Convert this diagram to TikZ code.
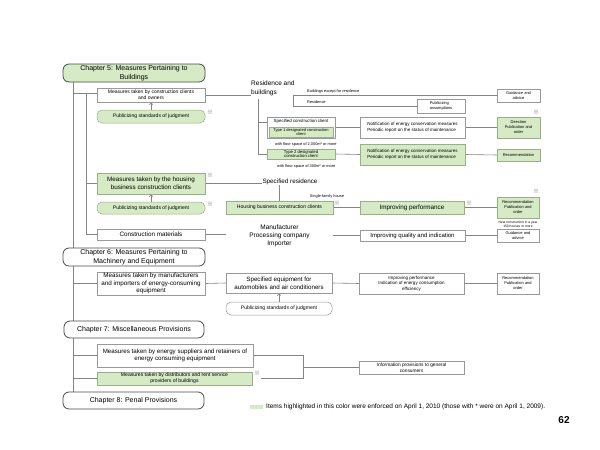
\documentclass[tikz,border=0pt]{standalone}
\usepackage{fontspec}
\setmainfont{Liberation Sans}
\newfontfamily\cjkf{Noto Sans CJK JP}
\usetikzlibrary{backgrounds,arrows.meta}
\definecolor{grn}{HTML}{D5EAC5}
\definecolor{grnline}{HTML}{98B088}
\definecolor{boxline}{HTML}{999999}
\definecolor{conline}{HTML}{848484}
\definecolor{chline}{HTML}{4A4A4A}
\newcommand{\fsz}[2]{\fontsize{#1}{#2}\selectfont}
\tikzset{
 base/.style={draw=boxline, line width=0.5pt, fill=white, align=center, inner sep=0.5pt, text=black},
 wbox/.style={base},
 gbox/.style={base, fill=grn, draw=grnline},
 rnd/.style={rounded corners=5pt},
 chap/.style={draw=chline, line width=0.8pt, rounded corners=6pt, fill=white, align=center, inner sep=0.5pt, text=black, font=\fsz{7}{8.5}},
 conn/.style={draw=conline, line width=0.6pt},
 upar/.style={conn, -{Straight Barb[length=2pt,width=3.5pt]}},
 note/.style={inner sep=0pt, align=left, text=black},
 ast/.style={inner sep=0pt, text=black!55, font=\cjkf\fsz{6}{6}},
}
\begin{document}
\begin{tikzpicture}[x=1pt,y=-1pt]
\useasboundingbox (0,0) rectangle (600,450);
\coordinate (lx) at (73,0);
\coordinate (mx) at (86,0);
% Chapter 5
\node[chap, fill=grn, minimum width=142, minimum height=18] (ch5) at (134,73) {Chapter 5: Measures Pertaining to\\Buildings};
\node[wbox, minimum width=108, minimum height=14, font=\fsz{5}{6}] (cc) at (151,95) {Measures taken by construction clients\\and owners};
\node[gbox, rnd, minimum width=108, minimum height=13, font=\fsz{5.1}{6}] (pub1) at (151,116.5) {Publicizing standards of judgment};
\node[gbox, minimum width=108, minimum height=21, font=\fsz{6.3}{8}] (hous) at (151,183.5) {Measures taken by the housing\\business construction clients};
\node[gbox, rnd, minimum width=108, minimum height=12, font=\fsz{5.1}{6}] (pub2) at (151,208) {Publicizing standards of judgment};
\node[wbox, minimum width=108, minimum height=11, font=\fsz{6.3}{7}] (cmat) at (151,234.5) {Construction materials};
% Chapter 6
\node[chap, minimum width=142, minimum height=18] (ch6) at (134,257) {Chapter 6: Measures Pertaining to\\Machinery and Equipment};
\node[wbox, minimum width=108, minimum height=23, font=\fsz{6.3}{7.4}] (manu) at (151,283.5) {Measures taken by manufacturers\\and importers of energy-consuming\\equipment};
% Chapter 7
\node[chap, minimum width=140, minimum height=17] (ch7) at (134,329.5) {Chapter 7: Miscellaneous Provisions};
\node[wbox, minimum width=156, minimum height=23, font=\fsz{6.2}{7.6}] (supp) at (175,355.5) {Measures taken by energy suppliers and retainers of\\energy consuming equipment};
\node[gbox, minimum width=155, minimum height=13, font=\fsz{5.1}{6}] (dist) at (174.5,378.5) {Measures taken by distributors and rent service\\providers of buildings};
% Chapter 8
\node[chap, minimum width=141, minimum height=17] (ch8) at (133.5,400.5) {Chapter 8: Penal Provisions};

% Residence and buildings branch
\node[note, font=\fsz{6.5}{9}, anchor=north west] (resb) at (251,81) {Residence and\\buildings};
\coordinate (jr) at (258,99);
\coordinate (jb) at (293,95.5);
\node[wbox, minimum width=68, minimum height=21, font=\fsz{4.4}{5}] (spec) at (301,127.5) {};
\node[note, font=\fsz{4.4}{5}] (spect) at (301,121.5) {Specified construction client};
\node[gbox, minimum width=64, minimum height=10, font=\fsz{4}{4.4}] (t1) at (301,132.2) {Type 1 designated construction\\client};
\node[note, font=\fsz{3.9}{4}, anchor=west] (fs1) at (275,144) {with floor space of 2,000m² or more};
\node[gbox, minimum width=68, minimum height=10, font=\fsz{4.2}{4.6}] (t2) at (301,154) {Type 2 designated\\construction client};
\node[note, font=\fsz{3.9}{4}, anchor=west] (fs2) at (277,166) {with floor space of 300m² or more};
\node[wbox, minimum width=105, minimum height=21, font=\fsz{4.5}{5.4}, align=left] (n1) at (412.5,127.5) {Notification of energy conservation measures\\Periodic report on the status of maintenance};
\node[gbox, minimum width=105, minimum height=21, font=\fsz{4.5}{5.4}, align=left] (n2) at (412.5,154.5) {Notification of energy conservation measures\\Periodic report on the status of maintenance};
\node[wbox, minimum width=48, minimum height=14, font=\fsz{4}{4.8}, align=left] (pa) at (441,106) {Publicizing\\assumptions};
\node[wbox, minimum width=43, minimum height=13, font=\fsz{4}{4.8}] (ga1) at (518.5,95.5) {Guidance and\\advice};
\node[gbox, minimum width=43, minimum height=21, font=\fsz{4}{5}] (dpo) at (518.5,127.5) {Direction\\Publication and\\order};
\node[gbox, minimum width=43, minimum height=12, font=\fsz{4}{5}] (rec1) at (518.5,155) {Recommendation};
\node[note, font=\fsz{3.9}{4}, anchor=south west] (ber) at (307,93.5) {Buildings except for residence};
\node[note, font=\fsz{3.9}{4}, anchor=south west] (res) at (307,104) {Residence};

% Specified residence branch
\node[note, font=\fsz{6.3}{7}] (sr) at (290,182) {Specified residence};
\node[gbox, minimum width=107, minimum height=13, font=\fsz{5.1}{6}] (hbc) at (279.5,207.5) {Housing business construction clients};
\node[note, font=\fsz{3.9}{4}] (sfh) at (327,196) {Single-family house};
\node[gbox, minimum width=104, minimum height=13, font=\fsz{6.3}{7}] (ip) at (412,207.5) {Improving performance};
\node[gbox, minimum width=42, minimum height=21, font=\fsz{4}{5}] (rpo) at (518,207.5) {Recommendation\\Publication and\\order};
\node[note, font=\fsz{3.3}{3.8}, align=center] (nc) at (518,224) {New construction in a year\\150 houses or more};
\node[note, align=center, minimum width=107, font=\fsz{6.5}{8}] (mpi) at (279.5,236) {Manufacturer\\Processing company\\Importer};
\node[wbox, minimum width=105, minimum height=11, font=\fsz{6}{7}] (iqi) at (412.5,235.5) {Improving quality and indication};
\node[wbox, minimum width=42, minimum height=13, font=\fsz{4}{4.8}] (ga2) at (518,235.5) {Guidance and\\advice};

% Chapter 6 branch
\node[wbox, minimum width=106, minimum height=20, font=\fsz{6.2}{7.6}] (seq) at (279,283) {Specified equipment for\\automobiles and air conditioners};
\node[wbox, rnd, minimum width=106, minimum height=13, font=\fsz{5.1}{6}] (pub3) at (279,308.5) {Publicizing standards of judgment};
\node[wbox, minimum width=105, minimum height=21, font=\fsz{4.5}{5.6}] (ipi) at (411.5,283.5) {Improving performance\\Indication of energy consumption\\efficiency};
\node[wbox, minimum width=42, minimum height=21, font=\fsz{4}{5}] (rpo2) at (518,283.5) {Recommendation\\Publication and\\order};

% Chapter 7 branch
\coordinate (jc) at (303,367.5);
\node[wbox, minimum width=105, minimum height=13, font=\fsz{4.8}{5.6}] (info) at (411.5,367.5) {Information provisions to general\\consumers};

% asterisks
\node[ast] (a1) at (210,112) {※};
\node[ast] (a2) at (210,175) {※};
\node[ast] (a3) at (210,204) {※};
\node[ast] (a4) at (337,203) {※};
\node[ast] (a5) at (469,203) {※};
\node[ast] (a6) at (536,191) {※};
\node[ast] (a7) at (536,112) {※};
\node[ast] (a8) at (257,373) {※};

% legend
\node[fill=grn, minimum width=13, minimum height=4, inner sep=0pt] (sw) at (256.5,407) {};
\node[note, font=\fsz{6.5}{7}, anchor=west] (leg) at (266,407) {Items highlighted in this color were enforced on April 1, 2010 (those with * were on April 1, 2009).};
\node[note, font=\bfseries\fsz{10}{11}] (pg) at (564,420) {62};

% connectors
\begin{pgfonlayer}{background}
\fill[white] (0,0) rectangle (600,450);
\draw[conn] (ch5.south -| lx) -- (ch8.north -| lx);
\draw[conn] ([yshift=2pt]cc.west -| lx) -- ([yshift=2pt]cc.west);
\draw[conn] ([yshift=2pt]cc.west -| mx) |- (cmat.west);
\draw[conn] (hous.west -| mx) -- (hous.west);
\draw[conn] (manu.west -| lx) -- (manu.west);
\draw[conn] (supp.west -| lx) -- (supp.west);
\draw[conn] (dist.west -| lx) -- (dist.west);
\draw[conn] (cc.east) -- (cc.east -| resb.west);
\draw[conn] (jr) |- ([yshift=5.5pt]spec.west);
\draw[conn] (jr) |- (t2.west);
\draw[conn] (jb) -- (ga1.west);
\draw[conn] (jb) |- (pa.west);
\draw[conn] (spec.east) -- (n1.west);
\draw[conn] (t2.east) -- (n2.west);
\draw[conn] (n1.east) -- (dpo.west);
\draw[conn] (n2.east) -- (rec1.west);
\draw[conn] (hous.east) -- (hous.east -| sr.west);
\draw[conn] (hbc.north |- sr.south) -- (hbc.north);
\draw[conn] (hbc.east) -- (ip.west);
\draw[conn] (ip.east) -- (rpo.west);
\draw[conn] (cmat.east) -- (cmat.east -| mpi.west);
\draw[conn] (iqi.west -| mpi.east) -- (iqi.west);
\draw[conn] (iqi.east) -- (ga2.west);
\draw[conn] (manu.east) -- (seq.west);
\draw[conn] (seq.east) -- (ipi.west);
\draw[conn] (ipi.east) -- (rpo2.west);
\draw[conn] (supp.east) -| (jc);
\draw[conn, shorten <=9pt] (dist.east) -| (jc);
\draw[conn] (jc) -- (info.west);
\end{pgfonlayer}
\draw[upar] (pub1.north) -- (cc.south);
\draw[upar] (pub2.north) -- (hous.south);
\draw[upar] (pub3.north) -- (seq.south);
\end{tikzpicture}
\end{document}
